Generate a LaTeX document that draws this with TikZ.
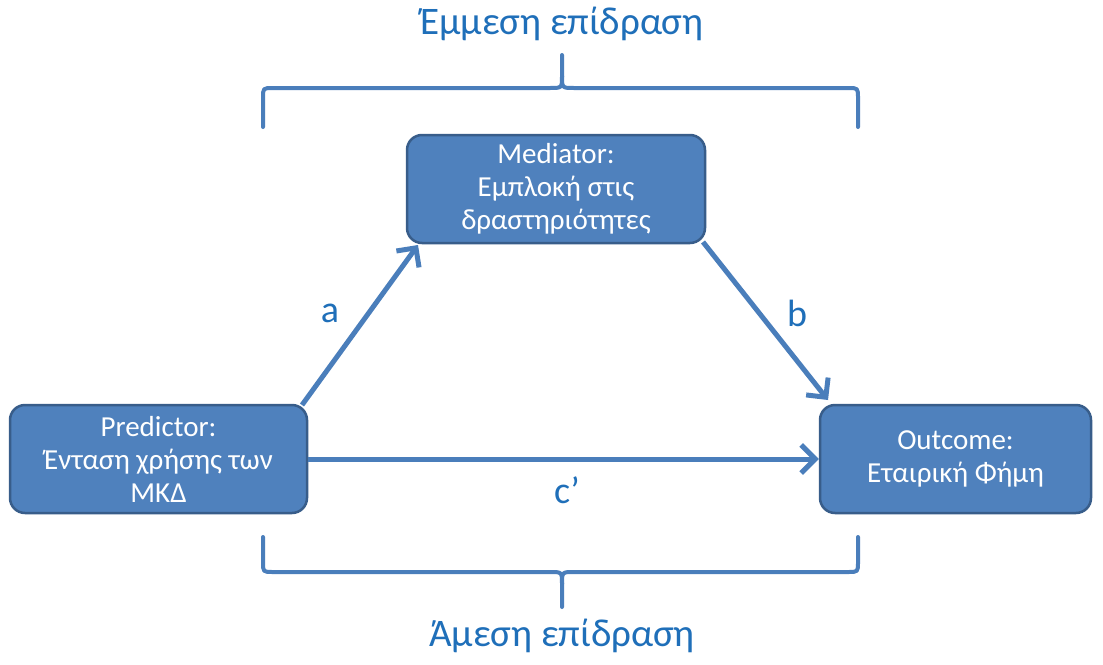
\documentclass[tikz,border=0pt]{standalone}
\usepackage{fontspec}
\setmainfont{Carlito}
\usetikzlibrary{arrows.meta}
\definecolor{boxfill}{HTML}{4F81BD}
\definecolor{boxline}{HTML}{385D8A}
\definecolor{lineblue}{HTML}{4A7EBB}
\definecolor{labelblue}{HTML}{1F6FB9}
\tikzset{
  box/.style={draw=boxline, line width=2.5pt, fill=boxfill, rounded corners=15pt,
    text=white, align=center, font=\fontsize{29}{33}\selectfont, inner sep=0pt},
  conn/.style={draw=lineblue, line width=5pt, -{Straight Barb[length=14pt,width=28pt,line width=5pt]}},
  brace/.style={draw=lineblue, line width=4pt, line cap=round, line join=round},
  lbl/.style={text=labelblue, font=\fontsize{38}{44}\selectfont, inner sep=0pt},
  ttl/.style={text=labelblue, font=\fontsize{39}{44}\selectfont, inner sep=0pt}
}
\begin{document}
\begin{tikzpicture}[x=1pt,y=-1pt]
\useasboundingbox (0,0) rectangle (1103,664);
\fill[white] (0,0) rectangle (1103,664);

\node[box, minimum width=297pt, minimum height=108pt] (pred) at (158.5,459)
  {Predictor:\\Ένταση χρήσης των\\ΜΚΔ};
\node[box, minimum width=298pt, minimum height=108pt] (med) at (556,189)
  {Mediator:\\Εμπλοκή στις\\δραστηριότητες};
\node[box, minimum width=271pt, minimum height=108pt] (out) at (955.5,459)
  {Outcome:\\Εταιρική Φήμη};

\coordinate (aS) at (302,405);
\coordinate (aE) at (418,245);
\coordinate (bS) at (703,242);
\coordinate (bE) at (828,400);
\draw[conn] (aS) -- (aE);
\draw[conn] (bS) -- (bE);
\draw[conn] (pred.east) -- (out.west);

\node[lbl] (la) at (330,313) {a};
\node[lbl] (lb) at (797,313) {b};
\node[lbl] (lc) at (567,490) {c’};

% top brace
\draw[brace] (263,127) -- (263,98) .. controls (263,88) .. (273,88) -- (550,88)
  .. controls (562,88) .. (562,76) -- (562,55);
\draw[brace] (858,127) -- (858,98) .. controls (858,88) .. (848,88) -- (574,88)
  .. controls (562,88) .. (562,76);
% bottom brace
\draw[brace] (263,537) -- (263,562) .. controls (263,572) .. (273,572) -- (550,572)
  .. controls (562,572) .. (562,584) -- (562,607);
\draw[brace] (858,537) -- (858,562) .. controls (858,572) .. (848,572) -- (574,572)
  .. controls (562,572) .. (562,584);

\node[ttl] (top) at (562,24) {Έμμεση επίδραση};
\node[ttl] (bot) at (562,636) {Άμεση επίδραση};
\end{tikzpicture}
\end{document}
